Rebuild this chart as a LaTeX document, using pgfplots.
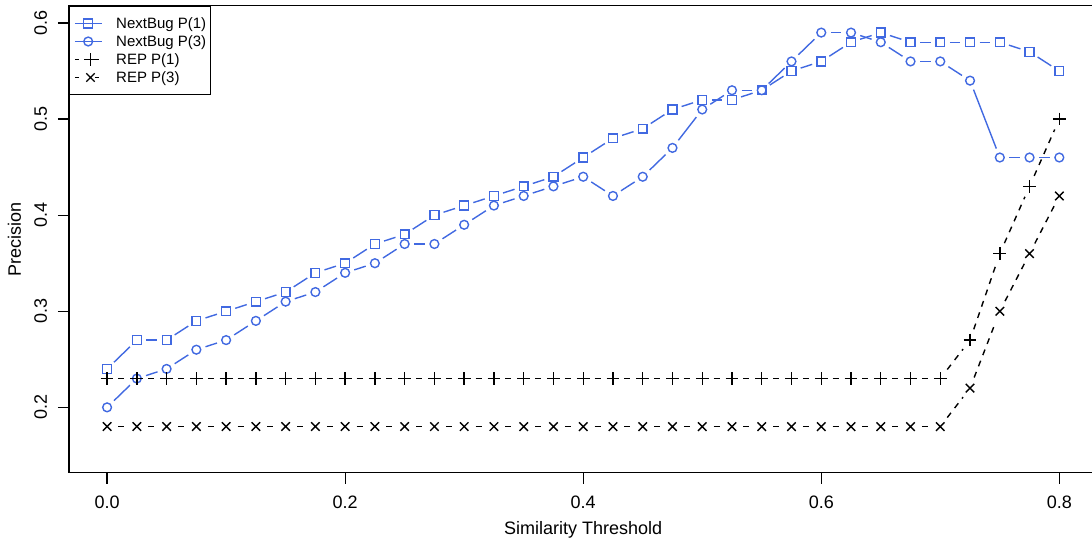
\documentclass[border=0pt]{standalone}
\usepackage{fontspec}
\setmainfont{Liberation Sans}
\usepackage{pgfplots}
\pgfplotsset{compat=1.18}
\usepackage{pgfplotstable}

\definecolor{nbblue}{RGB}{65,105,225}

% Each row holds a point (x, y) and the next point (xn, yn),
% so that the joining segments can be drawn with a gap at both ends.
\pgfplotstableread{
x     y     xn    yn
0.000 0.24  0.025 0.27
0.025 0.27  0.050 0.27
0.050 0.27  0.075 0.29
0.075 0.29  0.100 0.30
0.100 0.30  0.125 0.31
0.125 0.31  0.150 0.32
0.150 0.32  0.175 0.34
0.175 0.34  0.200 0.35
0.200 0.35  0.225 0.37
0.225 0.37  0.250 0.38
0.250 0.38  0.275 0.40
0.275 0.40  0.300 0.41
0.300 0.41  0.325 0.42
0.325 0.42  0.350 0.43
0.350 0.43  0.375 0.44
0.375 0.44  0.400 0.46
0.400 0.46  0.425 0.48
0.425 0.48  0.450 0.49
0.450 0.49  0.475 0.51
0.475 0.51  0.500 0.52
0.500 0.52  0.525 0.52
0.525 0.52  0.550 0.53
0.550 0.53  0.575 0.55
0.575 0.55  0.600 0.56
0.600 0.56  0.625 0.58
0.625 0.58  0.650 0.59
0.650 0.59  0.675 0.58
0.675 0.58  0.700 0.58
0.700 0.58  0.725 0.58
0.725 0.58  0.750 0.58
0.750 0.58  0.775 0.57
0.775 0.57  0.800 0.55
0.800 0.55  0.800 0.55
}\nbone

\pgfplotstableread{
x     y     xn    yn
0.000 0.20  0.025 0.23
0.025 0.23  0.050 0.24
0.050 0.24  0.075 0.26
0.075 0.26  0.100 0.27
0.100 0.27  0.125 0.29
0.125 0.29  0.150 0.31
0.150 0.31  0.175 0.32
0.175 0.32  0.200 0.34
0.200 0.34  0.225 0.35
0.225 0.35  0.250 0.37
0.250 0.37  0.275 0.37
0.275 0.37  0.300 0.39
0.300 0.39  0.325 0.41
0.325 0.41  0.350 0.42
0.350 0.42  0.375 0.43
0.375 0.43  0.400 0.44
0.400 0.44  0.425 0.42
0.425 0.42  0.450 0.44
0.450 0.44  0.475 0.47
0.475 0.47  0.500 0.51
0.500 0.51  0.525 0.53
0.525 0.53  0.550 0.53
0.550 0.53  0.575 0.56
0.575 0.56  0.600 0.59
0.600 0.59  0.625 0.59
0.625 0.59  0.650 0.58
0.650 0.58  0.675 0.56
0.675 0.56  0.700 0.56
0.700 0.56  0.725 0.54
0.725 0.54  0.750 0.46
0.750 0.46  0.775 0.46
0.775 0.46  0.800 0.46
0.800 0.46  0.800 0.46
}\nbthree

\pgfplotstableread{
x     y     xn    yn
0.000 0.23  0.025 0.23
0.025 0.23  0.050 0.23
0.050 0.23  0.075 0.23
0.075 0.23  0.100 0.23
0.100 0.23  0.125 0.23
0.125 0.23  0.150 0.23
0.150 0.23  0.175 0.23
0.175 0.23  0.200 0.23
0.200 0.23  0.225 0.23
0.225 0.23  0.250 0.23
0.250 0.23  0.275 0.23
0.275 0.23  0.300 0.23
0.300 0.23  0.325 0.23
0.325 0.23  0.350 0.23
0.350 0.23  0.375 0.23
0.375 0.23  0.400 0.23
0.400 0.23  0.425 0.23
0.425 0.23  0.450 0.23
0.450 0.23  0.475 0.23
0.475 0.23  0.500 0.23
0.500 0.23  0.525 0.23
0.525 0.23  0.550 0.23
0.550 0.23  0.575 0.23
0.575 0.23  0.600 0.23
0.600 0.23  0.625 0.23
0.625 0.23  0.650 0.23
0.650 0.23  0.675 0.23
0.675 0.23  0.700 0.23
0.700 0.23  0.725 0.27
0.725 0.27  0.750 0.36
0.750 0.36  0.775 0.43
0.775 0.43  0.800 0.50
0.800 0.50  0.800 0.50
}\repone

\pgfplotstableread{
x     y     xn    yn
0.000 0.18  0.025 0.18
0.025 0.18  0.050 0.18
0.050 0.18  0.075 0.18
0.075 0.18  0.100 0.18
0.100 0.18  0.125 0.18
0.125 0.18  0.150 0.18
0.150 0.18  0.175 0.18
0.175 0.18  0.200 0.18
0.200 0.18  0.225 0.18
0.225 0.18  0.250 0.18
0.250 0.18  0.275 0.18
0.275 0.18  0.300 0.18
0.300 0.18  0.325 0.18
0.325 0.18  0.350 0.18
0.350 0.18  0.375 0.18
0.375 0.18  0.400 0.18
0.400 0.18  0.425 0.18
0.425 0.18  0.450 0.18
0.450 0.18  0.475 0.18
0.475 0.18  0.500 0.18
0.500 0.18  0.525 0.18
0.525 0.18  0.550 0.18
0.550 0.18  0.575 0.18
0.575 0.18  0.600 0.18
0.600 0.18  0.625 0.18
0.625 0.18  0.650 0.18
0.650 0.18  0.675 0.18
0.675 0.18  0.700 0.18
0.700 0.18  0.725 0.22
0.725 0.22  0.750 0.30
0.750 0.30  0.775 0.36
0.775 0.36  0.800 0.42
0.800 0.42  0.800 0.42
}\repthree

\pgfplotsset{
  gapped/.style={forget plot, skip coords between index={32}{33},
    quiver={u=\thisrow{xn}-\thisrow{x}, v=\thisrow{yn}-\thisrow{y},
      every arrow/.append style={shorten <=#1, shorten >=#1}}},
}

\begin{document}
\begin{tikzpicture}
\useasboundingbox (0,0) rectangle (546pt,270pt);
\clip (0,0) rectangle (546pt,270pt);
\begin{axis}[
  at={(34.5pt,33.65pt)}, anchor=south west,
  scale only axis, width=514.2pt, height=233.5pt,
  xmin=-0.032, xmax=0.832, ymin=0.132, ymax=0.618,
  clip=false,
  axis line style={line width=0.6pt, black},
  xtick={0,0.2,0.4,0.6,0.8}, ytick={0.2,0.3,0.4,0.5,0.6},
  tick pos=left, tick align=outside, major tick length=5.5pt,
  tick style={line width=0.6pt, black},
  every tick label/.append style={font=\fontsize{9}{10.8}\selectfont, inner sep=0pt},
  xticklabel style={anchor=north,
    /pgf/number format/.cd, fixed, fixed zerofill, precision=1, assume math mode=true},
  yticklabel style={rotate=90, anchor=base,
    /pgf/number format/.cd, fixed, fixed zerofill, precision=1, assume math mode=true},
  xticklabel shift=6pt,
  yticklabel shift=5.6pt,
  xlabel={Similarity Threshold},
  ylabel={Precision},
  every axis x label/.style={at={(axis description cs:0.5,-0.1323)}, anchor=base,
    inner sep=0pt, font=\fontsize{9}{10.8}\selectfont},
  every axis y label/.style={at={(axis description cs:-0.0467,0.5)}, rotate=90, anchor=base,
    inner sep=0pt, font=\fontsize{9}{10.8}\selectfont},
  legend cell align=left,
  legend style={at={(axis description cs:0,1)}, anchor=north west,
    draw=black, line width=0.6pt, fill=white,
    font=\fontsize{7.5}{9}\selectfont,
    inner xsep=2.3pt, inner ysep=4.1pt,
    row sep=0pt, column sep=7pt,
    nodes={inner sep=0pt, text height=7.2pt, text depth=1.8pt},
  },
]
% NextBug P(1): solid segments with gaps, open squares
\addplot[nbblue, line width=0.7pt, gapped=4.8pt] table[x=x, y=y] {\nbone};
\addplot[nbblue, line width=0.7pt, only marks, mark=square, mark size=2.2pt,
  legend image code/.code={
    \draw[nbblue, line width=0.7pt] (0pt,0pt) -- (13.3pt,0pt);
    \draw[nbblue, line width=0.7pt] plot[mark=square, mark size=2.2pt] coordinates {(6.65pt,0pt)};
  }] table[x=x, y=y] {\nbone};
\addlegendentry{NextBug P(1)}

% NextBug P(3): solid segments with gaps, open circles
\addplot[nbblue, line width=0.7pt, gapped=4.8pt] table[x=x, y=y] {\nbthree};
\addplot[nbblue, line width=0.7pt, only marks, mark=o, mark size=2.2pt,
  legend image code/.code={
    \draw[nbblue, line width=0.7pt] (0pt,0pt) -- (13.3pt,0pt);
    \draw[nbblue, line width=0.7pt] plot[mark=o, mark size=2.2pt] coordinates {(6.65pt,0pt)};
  }] table[x=x, y=y] {\nbthree};
\addlegendentry{NextBug P(3)}

% REP P(1): dashed segments with gaps, plus marks
\addplot[black, line width=0.7pt, dash pattern=on 3pt off 3pt, gapped=5.7pt] table[x=x, y=y] {\repone};
\addplot[black, line width=0.7pt, only marks, mark=+, mark size=3.2pt,
  legend image code/.code={
    \draw[black, line width=0.7pt, dash pattern=on 2pt off 8pt] (0pt,0pt) -- (13.3pt,0pt);
    \draw[black, line width=0.7pt] plot[mark=+, mark size=3.2pt] coordinates {(7.8pt,0pt)};
  }] table[x=x, y=y] {\repone};
\addlegendentry{REP P(1)}

% REP P(3): dashed segments with gaps, cross marks
\addplot[black, line width=0.7pt, dash pattern=on 3pt off 3pt, gapped=5.7pt] table[x=x, y=y] {\repthree};
\addplot[black, line width=0.7pt, only marks, mark=x, mark size=3pt,
  legend image code/.code={
    \draw[black, line width=0.7pt, dash pattern=on 2pt off 8pt] (0pt,0pt) -- (13.3pt,0pt);
    \draw[black, line width=0.7pt] plot[mark=x, mark size=3pt] coordinates {(7.8pt,0pt)};
  }] table[x=x, y=y] {\repthree};
\addlegendentry{REP P(3)}
\end{axis}
\end{tikzpicture}
\end{document}
